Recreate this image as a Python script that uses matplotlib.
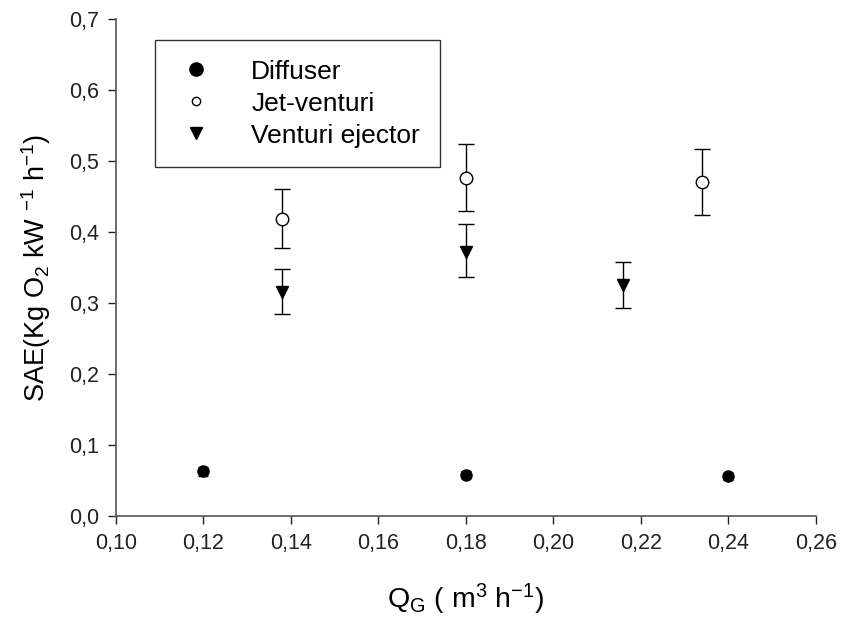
import matplotlib
matplotlib.use("Agg")
import matplotlib.pyplot as plt
from matplotlib.lines import Line2D
from matplotlib.ticker import FuncFormatter

plt.rcParams["font.family"] = ["Liberation Sans", "DejaVu Sans"]
plt.rcParams["mathtext.fontset"] = "custom"
plt.rcParams["mathtext.rm"] = "Liberation Sans"
plt.rcParams["mathtext.it"] = "Liberation Sans"
plt.rcParams["mathtext.default"] = "regular"

# Diffuser
dif_x = [0.12, 0.18, 0.24]
dif_y = [0.063, 0.058, 0.056]
dif_lo = [0.006, 0.005, 0.005]
dif_hi = [0.006, 0.005, 0.005]

# Jet-venturi
jet_x = [0.138, 0.18, 0.234]
jet_y = [0.418, 0.476, 0.470]
jet_lo = [0.041, 0.047, 0.046]
jet_hi = [0.042, 0.048, 0.047]

# Venturi ejector
ven_x = [0.138, 0.18, 0.216]
ven_y = [0.316, 0.372, 0.325]
ven_lo = [0.031, 0.035, 0.032]
ven_hi = [0.032, 0.039, 0.033]

fig = plt.figure(figsize=(8.42, 6.34), dpi=100)
ax = fig.add_axes([0.1378, 0.186, 0.831, 0.784])

eb = dict(ecolor="black", elinewidth=1.0, capthick=1.0, linestyle="none")
ax.errorbar(dif_x, dif_y, yerr=[dif_lo, dif_hi], fmt="o", color="black",
            markersize=8, capsize=3.5, **eb)
ax.errorbar(jet_x, jet_y, yerr=[jet_lo, jet_hi], fmt="o", markerfacecolor="white",
            markeredgecolor="black", markeredgewidth=1.0, markersize=9, capsize=5.5, **eb)
ax.errorbar(ven_x, ven_y, yerr=[ven_lo, ven_hi], fmt="v", color="black",
            markersize=9, capsize=5.5, **eb)

ax.set_xlim(0.10, 0.26)
ax.set_ylim(0.0, 0.7)
ax.set_xticks([0.10, 0.12, 0.14, 0.16, 0.18, 0.20, 0.22, 0.24, 0.26])
ax.set_yticks([0.0, 0.1, 0.2, 0.3, 0.4, 0.5, 0.6, 0.7])
ax.xaxis.set_major_formatter(FuncFormatter(lambda v, p: f"{v:.2f}".replace(".", ",")))
ax.yaxis.set_major_formatter(FuncFormatter(lambda v, p: f"{v:.1f}".replace(".", ",")))
ax.tick_params(direction="out", length=6, width=1, labelsize=15.5, colors="#222222", pad=6)

for s in ("top", "right"):
    ax.spines[s].set_visible(False)
for s in ("left", "bottom"):
    ax.spines[s].set_color("#555555")
    ax.spines[s].set_linewidth(1.2)

ax.set_xlabel("Q$_G$ ( m$^3$ h$^{-1}$)", fontsize=20.5, labelpad=20)
ax.set_ylabel("SAE(Kg O$_2$ kW $^{-1}$ h$^{-1}$)", fontsize=19.5, labelpad=12)

handles = [
    Line2D([], [], marker="o", linestyle="none", color="black", markersize=9.5),
    Line2D([], [], marker="o", linestyle="none", markerfacecolor="white",
           markeredgecolor="black", markersize=6),
    Line2D([], [], marker="v", linestyle="none", color="black", markersize=8),
]
labels = ["Diffuser", "Jet-venturi", "Venturi ejector"]
leg = ax.legend(handles, labels, loc="upper left", bbox_to_anchor=(0.0557, 0.958),
                borderaxespad=0, fontsize=19, frameon=True, fancybox=False,
                edgecolor="black", handletextpad=1.3, borderpad=0.75,
                labelspacing=0.3, handlelength=1.6)
leg.get_frame().set_linewidth(1.0)

fig.savefig("out.png", dpi=100, facecolor="white")
